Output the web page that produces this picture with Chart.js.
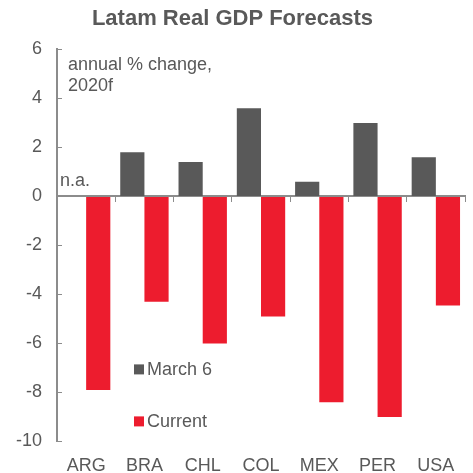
<!DOCTYPE html>
<html>
<head>
<meta charset="utf-8">
<script src="https://cdn.jsdelivr.net/npm/chart.js@4"></script>
<style>
  html, body { margin: 0; padding: 0; background: #fff; }
  #wrap { width: 473px; height: 473px; }
</style>
</head>
<body>
<div id="wrap"><canvas id="myChart"></canvas></div>
<script>
var countries = ['ARG', 'BRA', 'CHL', 'COL', 'MEX', 'PER', 'USA'];
var march6 = [null, 1.8, 1.4, 3.6, 0.6, 3.0, 1.6];
var current = [-7.9, -4.3, -6.0, -4.9, -8.4, -9.0, -4.45];
var seriesNames = ['March 6', 'Current'];
var seriesColors = ['#595959', '#ED1C2E'];
var yTicks = [-10, -8, -6, -4, -2, 0, 2, 4, 6];
var noteLines = ['annual % change,', '2020f'];

var textColor = '#595959';
var axisColor = '#8c8c8c';
var font = 'Liberation Sans, Arial, sans-serif';

// legend and notes drawn inside the plot area
var notesPlugin = {
    id: 'notes',
    afterDraw: function(chart) {
        var ctx = chart.ctx;
        var area = chart.chartArea;
        var x = chart.scales.x;
        var y = chart.scales.y;
        ctx.save();
        ctx.fillStyle = textColor;
        ctx.font = '18px ' + font;
        ctx.textAlign = 'left';
        ctx.textBaseline = 'alphabetic';
        ctx.fillText(noteLines[0], area.left + 11, area.top + 21);
        ctx.fillText(noteLines[1], area.left + 11, area.top + 42);

        // n.a. for missing value
        var catW = x.getPixelForValue(1) - x.getPixelForValue(0);
        ctx.fillText('n.a.', x.getPixelForValue(0) - catW / 2 + 3, y.getPixelForValue(0) - 10);

        // legend
        chart.data.datasets.forEach(function(ds, i) {
            var lx = area.left + 77;
            var ly = area.top + 320 + i * 52;
            ctx.fillStyle = ds.backgroundColor;
            ctx.fillRect(lx, ly - 5, 10, 10);
            ctx.fillStyle = textColor;
            ctx.textBaseline = 'middle';
            ctx.fillText(ds.label, lx + 13, ly + 1);
        });
        ctx.restore();
    }
};

var chart = new Chart(document.getElementById('myChart').getContext('2d'), {
    type: 'bar',
    data: {
        labels: countries,
        datasets: [
            { label: seriesNames[0], data: march6, backgroundColor: seriesColors[0], xAxisID: 'x' },
            { label: seriesNames[1], data: current, backgroundColor: seriesColors[1], xAxisID: 'x' }
        ]
    },
    options: {
        responsive: true,
        maintainAspectRatio: false,
        animation: false,
        layout: { padding: { left: 0, right: 8, top: 0, bottom: -10 } },
        datasets: {
            bar: { categoryPercentage: 0.83, barPercentage: 1.0 }
        },
        plugins: {
            legend: { display: false },
            tooltip: { enabled: false },
            title: {
                display: true,
                text: 'Latam Real GDP Forecasts',
                color: textColor,
                font: { family: font, size: 22, weight: 'bold' },
                padding: { top: 6, bottom: 17 }
            }
        },
        scales: {
            x: {
                type: 'category',
                position: 'bottom',
                grid: { display: false },
                border: { display: false },
                ticks: {
                    color: textColor,
                    font: { family: font, size: 18 },
                    padding: 6,
                    maxRotation: 0
                }
            },
            x2: {
                type: 'category',
                labels: countries,
                position: { y: 0 },
                offset: true,
                afterFit: function(scale) { scale.height = 0; },
                grid: {
                    offset: true,
                    drawOnChartArea: false,
                    drawTicks: true,
                    tickLength: 5,
                    color: axisColor
                },
                border: { display: true, color: axisColor, width: 2 },
                ticks: { display: false }
            },
            y: {
                min: -10,
                max: 6,
                afterBuildTicks: function(scale) {
                    scale.ticks = yTicks.map(function(v) { return { value: v }; });
                },
                afterFit: function(scale) { scale.width = 57; },
                grid: {
                    drawOnChartArea: false,
                    drawTicks: true,
                    tickLength: -5,
                    color: axisColor
                },
                border: { display: true, color: axisColor, width: 2 },
                ticks: {
                    color: textColor,
                    font: { family: font, size: 18 },
                    padding: 20
                }
            }
        }
    },
    plugins: [notesPlugin]
});
</script>
</body>
</html>
